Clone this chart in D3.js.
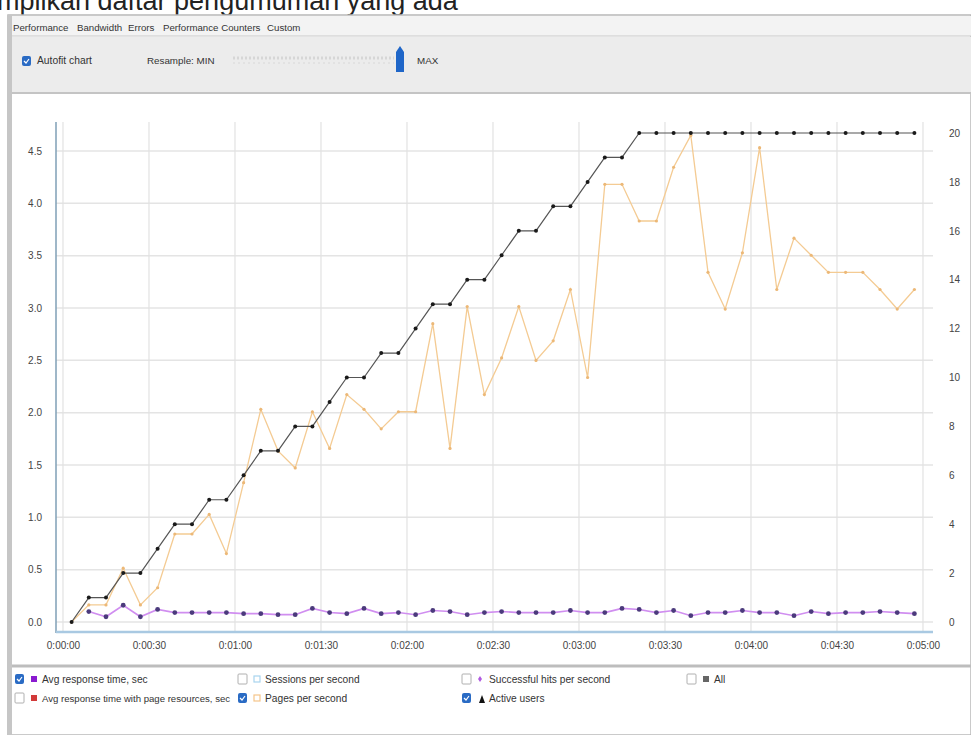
<!DOCTYPE html>
<html>
<head>
<meta charset="utf-8">
<script src="https://cdn.jsdelivr.net/npm/d3@7/dist/d3.min.js"></script>
<style>
  body { margin: 0; background: #fff; }
  text { font-family: "Liberation Sans", Arial, sans-serif; }
</style>
</head>
<body>
<div id="chart"></div>
<script>
var w = 971, h = 735;

// sample times (seconds) and series
var times = [3, 9, 15, 21, 27, 33, 39, 45, 51, 57, 63, 69, 75, 81, 87, 93, 99, 105, 111, 117,
  123, 129, 135, 141, 147, 153, 159, 165, 171, 177, 183, 189, 195, 201, 207, 213, 219, 225, 231, 237,
  243, 249, 255, 261, 267, 273, 279, 285, 291, 297];
var activeUsers = [0, 1, 1, 2, 2, 3, 4, 4, 5, 5, 6, 7, 7, 8, 8, 9, 10, 10, 11, 11,
  12, 13, 13, 14, 14, 15, 16, 16, 17, 17, 18, 19, 19, 20, 20, 20, 20, 20, 20, 20,
  20, 20, 20, 20, 20, 20, 20, 20, 20, 20];
var pagesPerSecond = [0, 0.7, 0.7, 2.2, 0.7, 1.4, 3.6, 3.6, 4.4, 2.8, 5.7, 8.7, 7.0, 6.3, 8.6, 7.1, 9.3, 8.7, 7.9, 8.6,
  8.6, 12.2, 7.1, 12.9, 9.3, 10.8, 12.9, 10.7, 11.5, 13.6, 10.0, 17.9, 17.9, 16.4, 16.4, 18.6, 19.9, 14.3, 12.8, 15.1,
  19.4, 13.6, 15.7, 15.0, 14.3, 14.3, 14.3, 13.6, 12.8, 13.6];
var avgResponse = [null, 0.10, 0.05, 0.16, 0.05, 0.12, 0.09, 0.09, 0.09, 0.09, 0.08, 0.08, 0.07, 0.07, 0.13,
  0.09, 0.08, 0.13, 0.08, 0.09, 0.07, 0.11, 0.10, 0.07, 0.09, 0.10, 0.09, 0.09, 0.09, 0.11, 0.09, 0.09, 0.13,
  0.12, 0.09, 0.11, 0.06, 0.09, 0.09, 0.11, 0.09, 0.09, 0.06, 0.10, 0.08, 0.09, 0.09, 0.10, 0.09, 0.08];

var leftTicks = [0, 0.5, 1, 1.5, 2, 2.5, 3, 3.5, 4, 4.5];
var rightTicks = [0, 2, 4, 6, 8, 10, 12, 14, 16, 18, 20];
var timeTicks = [0, 30, 60, 90, 120, 150, 180, 210, 240, 270, 300];

var tabLabels = ['Performance', 'Bandwidth', 'Errors', 'Performance Counters', 'Custom'];
var legendLabels = ['Avg response time, sec', 'Avg response time with page resources, sec',
  'Sessions per second', 'Pages per second',
  'Successful hits per second', 'Active users', 'All'];
var legendChecked = [true, false, false, true, false, true, false];

var svg = d3.select('#chart').append('svg')
  .attr('width', w).attr('height', h);

// cut-off document line at the very top
svg.append('text')
  .attr('x', -3).attr('y', 10)
  .attr('font-size', 27)
  .attr('fill', '#222')
  .text('mpilkan daftar pengumuman yang ada');

//------------- window frame / tabs / toolbar
svg.append('rect').attr('x', 8).attr('y', 15).attr('width', w - 8).attr('height', h - 15)
  .attr('fill', '#fff').attr('stroke', '#b8b8b8').attr('stroke-width', 1.5);
svg.append('rect').attr('x', 9).attr('y', 16).attr('width', w - 9).attr('height', 20).attr('fill', '#f3f3f3');
svg.append('line').attr('x1', 9).attr('x2', w).attr('y1', 36).attr('y2', 36).attr('stroke', '#c8c8c8');
svg.append('rect').attr('x', 9).attr('y', 37).attr('width', w - 9).attr('height', 55).attr('fill', '#ececec');
svg.append('line').attr('x1', 9).attr('x2', w).attr('y1', 93).attr('y2', 93).attr('stroke', '#c4c4c4').attr('stroke-width', 2);
svg.append('rect').attr('x', 7).attr('y', 15).attr('width', 5).attr('height', h - 15).attr('fill', '#c6c6c6');

var tabX = [13, 77, 128, 163, 267];
svg.selectAll('text.tab').data(tabLabels).enter().append('text')
  .attr('class', 'tab')
  .attr('x', function (d, i) { return tabX[i]; })
  .attr('y', 31)
  .attr('font-size', 9.7)
  .attr('fill', '#333')
  .text(function (d) { return d; });

function checkbox(g, x, y, checked) {
  if (checked) {
    g.append('rect').attr('x', x).attr('y', y).attr('width', 9).attr('height', 10).attr('rx', 2)
      .attr('fill', '#2a6bc4');
    g.append('path').attr('d', 'M' + (x + 2) + ',' + (y + 5) + ' l2,2 l3,-4')
      .attr('fill', 'none').attr('stroke', '#fff').attr('stroke-width', 1.2);
  } else {
    g.append('rect').attr('x', x).attr('y', y).attr('width', 9).attr('height', 10).attr('rx', 1)
      .attr('fill', '#fff').attr('stroke', '#b0b0b0');
  }
}

checkbox(svg, 22, 56, true);
svg.append('text').attr('x', 37).attr('y', 64).attr('font-size', 10.3).attr('fill', '#333').text('Autofit chart');
svg.append('text').attr('x', 147).attr('y', 64).attr('font-size', 9.8).attr('fill', '#333').text('Resample:  MIN');
svg.append('line').attr('x1', 233).attr('x2', 394).attr('y1', 58).attr('y2', 58)
  .attr('stroke', '#d6d6d6').attr('stroke-width', 3).attr('stroke-dasharray', '2,2');
svg.append('line').attr('x1', 233).attr('x2', 394).attr('y1', 63).attr('y2', 63)
  .attr('stroke', '#e2e2e2').attr('stroke-width', 2).attr('stroke-dasharray', '2,3');
svg.append('path').attr('d', 'M396,52 L400,46 L404,52 L404,72 L396,72 Z').attr('fill', '#1f66c8');
svg.append('text').attr('x', 417).attr('y', 64).attr('font-size', 9.8).attr('fill', '#333').text('MAX');

//------------- chart
var x = d3.scaleLinear().domain([0, 300]).range([63, 923]);
var yLeft = d3.scaleLinear().domain([0, 4.5]).range([622, 151]);
var yRight = d3.scaleLinear().domain([0, 20]).range([622, 133]);

var grid = svg.append('g');
grid.selectAll('line.h').data(leftTicks).enter().append('line')
  .attr('x1', 56).attr('x2', 933)
  .attr('y1', function (d) { return yLeft(d); })
  .attr('y2', function (d) { return yLeft(d); })
  .attr('stroke', '#e4e4e4').attr('stroke-width', 1.5);
grid.selectAll('line.v').data(timeTicks).enter().append('line')
  .attr('x1', function (d) { return x(d); })
  .attr('x2', function (d) { return x(d); })
  .attr('y1', 122).attr('y2', 632)
  .attr('stroke', '#e2e2e2').attr('stroke-width', 1.2);

// axis lines
svg.append('line').attr('x1', 56).attr('x2', 56).attr('y1', 122).attr('y2', 633)
  .attr('stroke', '#7f9fb6').attr('stroke-width', 1.5);
svg.append('line').attr('x1', 56).attr('x2', 933).attr('y1', 632).attr('y2', 632)
  .attr('stroke', '#a9c9e2').attr('stroke-width', 2.5);

var fmtTime = function (s) {
  var m = Math.floor(s / 60), sec = s % 60;
  return '0:' + (m < 10 ? '0' : '') + m + ':' + (sec < 10 ? '0' : '') + sec;
};

var axL = svg.append('g').attr('transform', 'translate(56,0)')
  .call(d3.axisLeft(yLeft).tickValues(leftTicks).tickFormat(d3.format('.1f')).tickSize(0).tickPadding(14));
var axR = svg.append('g').attr('transform', 'translate(933,0)')
  .call(d3.axisRight(yRight).tickValues(rightTicks).tickFormat(d3.format('d')).tickSize(0).tickPadding(16));
var axB = svg.append('g').attr('transform', 'translate(0,632)')
  .call(d3.axisBottom(x).tickValues(timeTicks).tickFormat(fmtTime).tickSize(0).tickPadding(10));
[axL, axR, axB].forEach(function (a) {
  a.select('.domain').remove();
  a.selectAll('text').attr('font-size', 10).attr('fill', '#444')
    .style('font-family', '"Liberation Sans", Arial, sans-serif');
});

var rows = times.map(function (t, i) {
  return { t: t, users: activeUsers[i], pages: pagesPerSecond[i], resp: avgResponse[i] };
});

// pages per second (orange)
svg.append('path').datum(rows)
  .attr('fill', 'none').attr('stroke', '#f4cb93').attr('stroke-width', 1.3)
  .attr('d', d3.line().x(function (d) { return x(d.t); }).y(function (d) { return yRight(d.pages); }));
svg.selectAll('circle.pg').data(rows).enter().append('circle')
  .attr('class', 'pg')
  .attr('cx', function (d) { return x(d.t); })
  .attr('cy', function (d) { return yRight(d.pages); })
  .attr('r', 1.6).attr('fill', '#ecb877');

// active users (black)
svg.append('path').datum(rows)
  .attr('fill', 'none').attr('stroke', '#555').attr('stroke-width', 1.2)
  .attr('d', d3.line().x(function (d) { return x(d.t); }).y(function (d) { return yRight(d.users); }));
svg.selectAll('circle.au').data(rows).enter().append('circle')
  .attr('class', 'au')
  .attr('cx', function (d) { return x(d.t); })
  .attr('cy', function (d) { return yRight(d.users); })
  .attr('r', 2).attr('fill', '#1a1a1a');

// avg response time (purple)
var respRows = rows.filter(function (d) { return d.resp != null; });
svg.append('path').datum(respRows)
  .attr('fill', 'none').attr('stroke', '#d08ef0').attr('stroke-width', 1.6)
  .attr('d', d3.line().x(function (d) { return x(d.t); }).y(function (d) { return yLeft(d.resp); }));
svg.selectAll('circle.rt').data(respRows).enter().append('circle')
  .attr('class', 'rt')
  .attr('cx', function (d) { return x(d.t); })
  .attr('cy', function (d) { return yLeft(d.resp); })
  .attr('r', 2.4).attr('fill', '#4b3a7c');

//------------- legend panel
svg.append('line').attr('x1', 12).attr('x2', w).attr('y1', 666).attr('y2', 666)
  .attr('stroke', '#bdbdbd').attr('stroke-width', 3);

var colX = [15, 238, 462, 687];
var icons = ['#8a1bd0', '#d23a3a', '#a8d4ee', '#f5c58a', '#b05ae0', '#111', '#666'];
var leg = svg.append('g');
legendLabels.forEach(function (label, i) {
  var cx = colX[Math.floor(i / 2)], cy = 674 + (i % 2) * 19;
  checkbox(leg, cx, cy, legendChecked[i]);
  if (i === 5) {
    leg.append('path').attr('d', 'M' + (cx + 17) + ',' + (cy + 10) + ' l3,-8 l3,8 z').attr('fill', icons[i]);
  } else if (i === 4) {
    leg.append('path').attr('d', 'M' + (cx + 18) + ',' + (cy + 2) + ' l2,3 l-2,3 l-2,-3 z').attr('fill', icons[i]);
  } else {
    leg.append('rect').attr('x', cx + 16).attr('y', cy + 2).attr('width', 6).attr('height', 6)
      .attr('fill', i === 2 || i === 3 ? '#fff' : icons[i])
      .attr('stroke', icons[i]).attr('stroke-width', i === 2 || i === 3 ? 1.2 : 0);
  }
  leg.append('text').attr('x', cx + 27).attr('y', cy + 8.5)
    .attr('font-size', i === 1 ? 9.6 : 10.2).attr('fill', '#333').text(label);
});
</script>
</body>
</html>
